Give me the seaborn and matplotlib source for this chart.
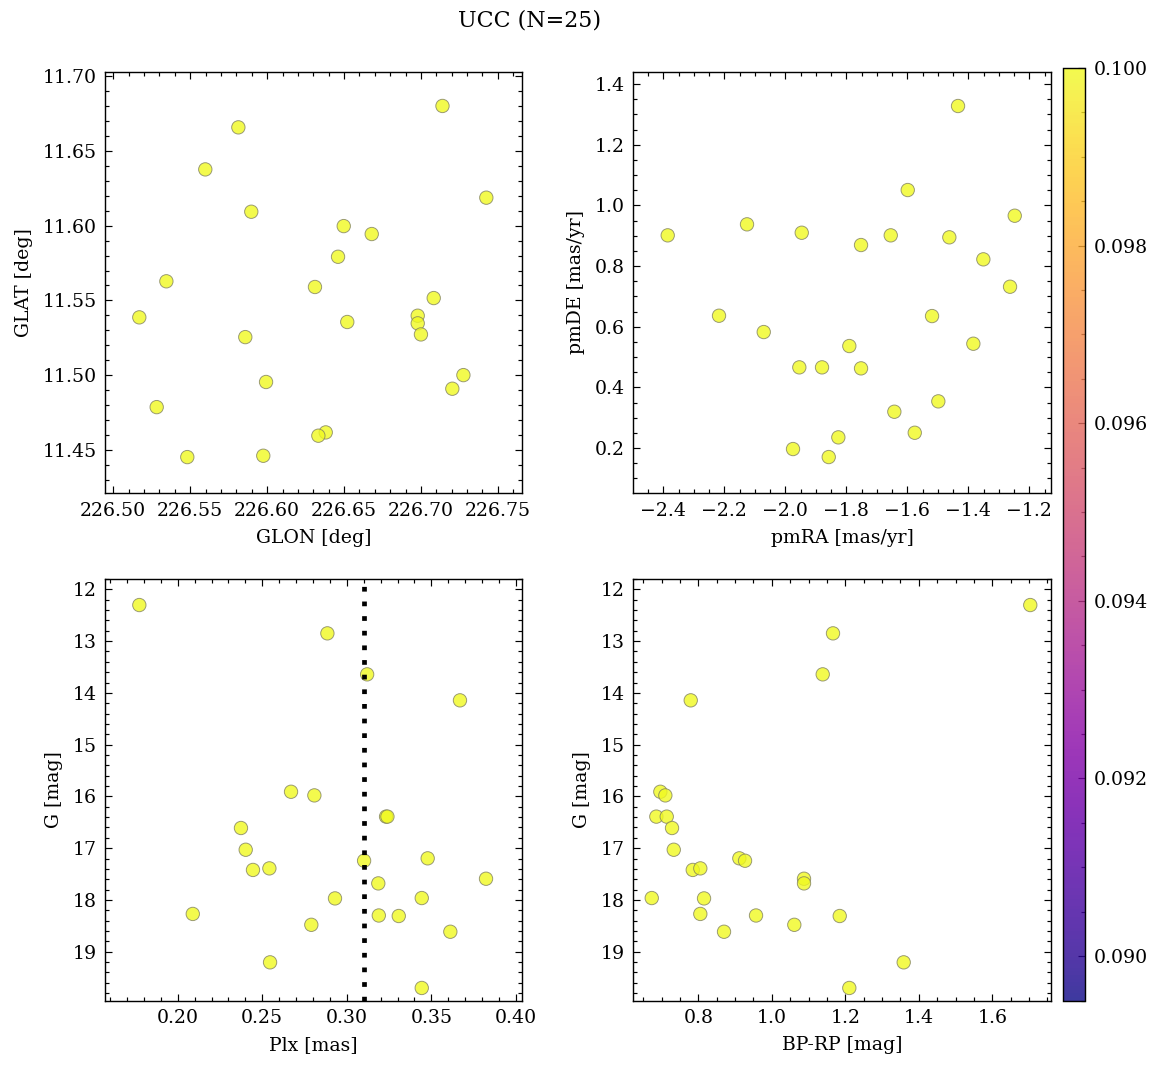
import numpy as np
import pandas as pd
import seaborn as sns
import matplotlib
matplotlib.use("Agg")
import matplotlib.pyplot as plt
from matplotlib.ticker import AutoMinorLocator, MultipleLocator
from matplotlib.colors import Normalize
from matplotlib.cm import ScalarMappable

# ---------------- data ----------------
glon = [226.714, 226.5813, 226.5598, 226.7425, 226.5897, 226.6498, 226.668,
        226.6461, 226.5345, 226.6311, 226.7083, 226.5169, 226.6979, 226.6979,
        226.6521, 226.700, 226.5858, 226.7276, 226.5993, 226.7204, 226.5282,
        226.6381, 226.6333, 226.5481, 226.5975]
glat = [11.680, 11.6657, 11.6376, 11.6187, 11.6093, 11.5997, 11.5944,
        11.5792, 11.5628, 11.559, 11.5516, 11.5387, 11.5398, 11.5347,
        11.5356, 11.5273, 11.5255, 11.5001, 11.4955, 11.491, 11.4787,
        11.4618, 11.4596, 11.4453, 11.4462]
pmra = [-1.4338, -1.5987, -1.2479, -2.1256, -2.3856, -1.9462, -1.6544,
        -1.4623, -1.7518, -1.3508, -1.2633, -2.2174, -1.519, -2.0708,
        -1.3836, -1.7902, -1.9541, -1.8797, -1.7518, -1.4984, -1.6426,
        -1.5757, -1.8262, -1.9748, -1.8577]
pmde = [1.3275, 1.0505, 0.9658, 0.9374, 0.9011, 0.9097, 0.9011, 0.8946,
        0.8692, 0.822, 0.7317, 0.6361, 0.635, 0.5823, 0.5438, 0.5362,
        0.4659, 0.4659, 0.4626, 0.3538, 0.3196, 0.2503, 0.2351, 0.1966,
        0.1702]
plx = [0.1773, 0.2885, 0.312, 0.3669, 0.267, 0.2808, 0.3232, 0.3240,
       0.2374, 0.2402, 0.3478, 0.3102, 0.2445, 0.2542, 0.3823, 0.3186,
       0.3443, 0.293, 0.2089, 0.3189, 0.3307, 0.279, 0.3612, 0.2546,
       0.3443]
gmag = [12.303, 12.85, 13.642, 14.144, 15.91, 15.98, 16.39, 16.39, 16.61,
        17.03, 17.196, 17.242, 17.42, 17.39, 17.59, 17.68, 17.963, 17.97,
        18.27, 18.30, 18.31, 18.48, 18.614, 19.205, 19.70]
bprp = [1.7034, 1.1665, 1.1385, 0.7793, 0.6966, 0.7102, 0.6857, 0.714,
        0.7284, 0.7331, 0.9116, 0.9271, 0.7848, 0.8054, 1.0876, 1.0876,
        0.6732, 0.8155, 0.8054, 0.957, 1.1848, 1.0612, 0.8699, 1.3589,
        1.2109]
prob = [0.1] * 25
plx_median = 0.3104
title = "UCC (N=25)"

df = pd.DataFrame({"GLON": glon, "GLAT": glat, "pmRA": pmra, "pmDE": pmde,
                   "Plx": plx, "G": gmag, "BP-RP": bprp, "prob": prob})

# ---------------- style ----------------
sns.set_style("ticks")
plt.rcParams.update({
    "font.family": ["DejaVu Serif"],
    "font.size": 8,
    "text.color": "black",
    "axes.labelcolor": "black",
    "axes.linewidth": 0.6,
    "xtick.direction": "in", "ytick.direction": "in",
    "xtick.top": True, "ytick.right": True,
    "xtick.minor.visible": True, "ytick.minor.visible": True,
    "xtick.major.size": 3, "ytick.major.size": 3,
    "xtick.minor.size": 1.6, "ytick.minor.size": 1.6,
    "xtick.major.width": 0.5, "ytick.major.width": 0.5,
    "xtick.minor.width": 0.5, "ytick.minor.width": 0.5,
    "axes.edgecolor": "black",
    "xtick.color": "black", "ytick.color": "black",
    "xtick.labelcolor": "black", "ytick.labelcolor": "black",
})

W, H, DPI = 1160, 1068, 170
fig = plt.figure(figsize=(W / DPI, H / DPI), dpi=DPI)

def pos(l, r, t, b):
    return [l / W, 1 - b / H, (r - l) / W, (b - t) / H]

ax1 = fig.add_axes(pos(105, 521.7, 71.7, 493.3))
ax2 = fig.add_axes(pos(633.3, 1050.7, 71.7, 493.3))
ax3 = fig.add_axes(pos(105, 521.7, 579, 1000.7))
ax4 = fig.add_axes(pos(633.3, 1050.7, 579, 1000.7))
cax = fig.add_axes(pos(1063, 1085, 68, 1000.5))

vmin, vmax = 0.0895, 0.1
kw = dict(hue="prob", palette="plasma", hue_norm=(vmin, vmax), legend=False,
          s=32, alpha=0.8, edgecolor="#808060", linewidth=0.4)

sns.scatterplot(data=df, x="GLON", y="GLAT", ax=ax1, **kw)
sns.scatterplot(data=df, x="pmRA", y="pmDE", ax=ax2, **kw)
sns.scatterplot(data=df, x="Plx", y="G", ax=ax3, **kw)
ax3.axvline(plx_median, color="black", lw=2.0, linestyle=(0, (1, 2.1)))
sns.scatterplot(data=df, x="BP-RP", y="G", ax=ax4, **kw)

ax1.set_xlim(226.4946, 226.7655); ax1.set_ylim(11.4211, 11.7029)
ax2.set_xlim(-2.4984, -1.130); ax2.set_ylim(0.0507, 1.4406)
ax3.set_xlim(0.157, 0.4034); ax3.set_ylim(19.946, 11.80)
ax4.set_xlim(0.623, 1.759); ax4.set_ylim(19.946, 11.80)

ax1.xaxis.set_major_locator(MultipleLocator(0.05))
ax1.yaxis.set_major_locator(MultipleLocator(0.05))
ax2.xaxis.set_major_locator(MultipleLocator(0.2))
ax2.yaxis.set_major_locator(MultipleLocator(0.2))
ax3.xaxis.set_major_locator(MultipleLocator(0.05))
ax3.yaxis.set_major_locator(MultipleLocator(1))
ax4.xaxis.set_major_locator(MultipleLocator(0.2))
ax4.yaxis.set_major_locator(MultipleLocator(1))
for ax in (ax1, ax2, ax3, ax4):
    ax.xaxis.set_minor_locator(AutoMinorLocator())
    ax.yaxis.set_minor_locator(AutoMinorLocator())
    ax.tick_params(which="both", direction="in", top=True, right=True,
                   colors="black", labelcolor="black")

ax1.set_xlabel("GLON [deg]"); ax1.set_ylabel("GLAT [deg]")
ax2.set_xlabel("pmRA [mas/yr]"); ax2.set_ylabel("pmDE [mas/yr]")
ax3.set_xlabel("Plx [mas]"); ax3.set_ylabel("G [mag]")
ax4.set_xlabel("BP-RP [mag]"); ax4.set_ylabel("G [mag]")

sm = ScalarMappable(norm=Normalize(vmin=vmin, vmax=vmax), cmap="plasma")
sm.set_array([])
cb = fig.colorbar(sm, cax=cax, alpha=0.8)
cb.outline.set_linewidth(0.6)
cax.yaxis.set_major_locator(MultipleLocator(0.002))
cax.yaxis.set_minor_locator(MultipleLocator(0.0005))
cax.tick_params(which="both", direction="in", right=True, left=False,
                colors="black", labelcolor="black")

fig.text(0.4565, 1 - 20.5 / H, title, ha="center", va="center",
         fontsize=9.4, color="black")

fig.savefig("out.png", dpi=DPI)
